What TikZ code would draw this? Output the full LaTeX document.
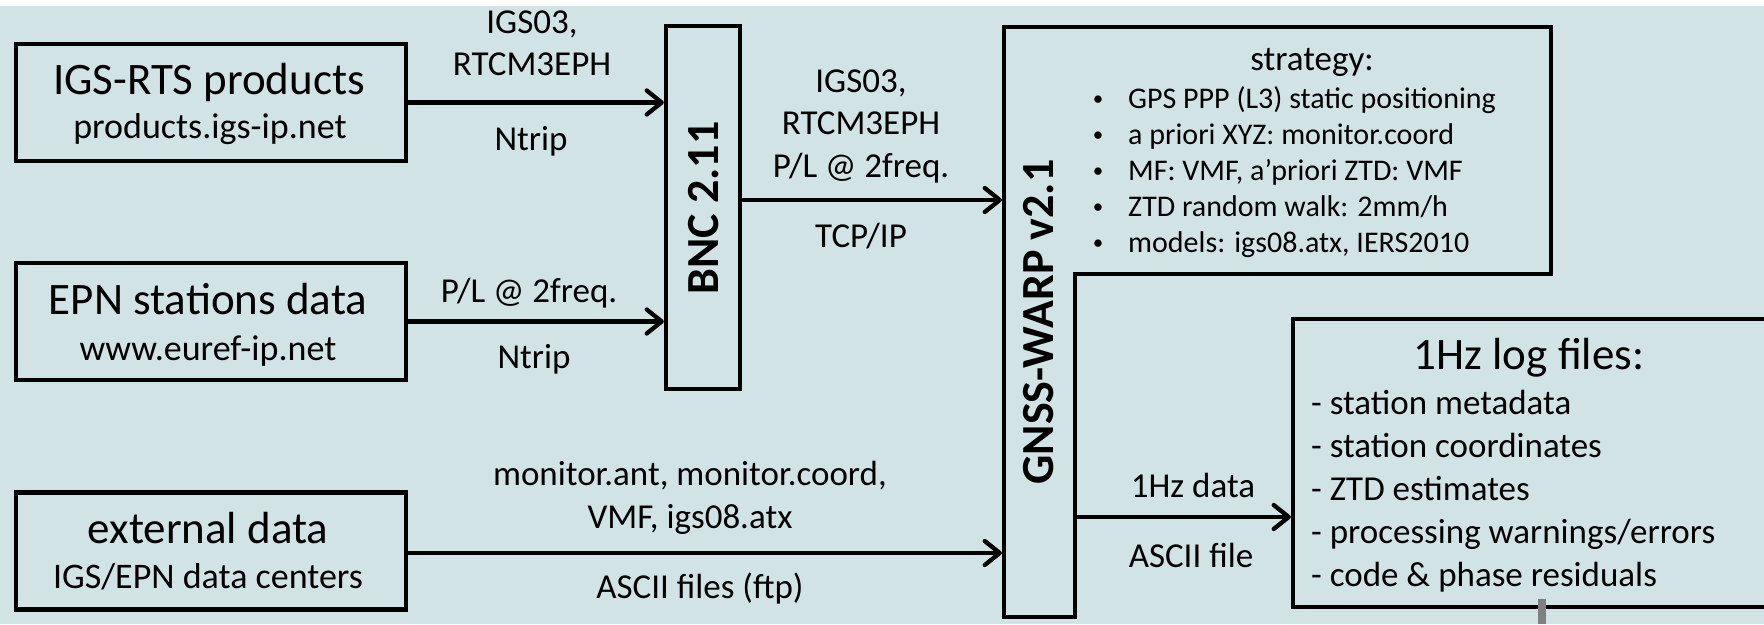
\documentclass[tikz,border=0pt]{standalone}
\usepackage{fontspec}
\setmainfont{Carlito}
\usetikzlibrary{arrows.meta,calc}
\definecolor{bg}{RGB}{210,227,229}
\definecolor{barg}{RGB}{128,128,128}
\tikzset{
  box/.style={draw, line width=4.3pt, minimum width=390pt, minimum height=117pt, inner sep=0pt},
  arr/.style={line width=4.3pt, -{Straight Barb[length=15pt,width=24pt,round]}},
  ttl/.style={anchor=base, font=\fontsize{45}{54}\selectfont, inner sep=0pt},
  sub/.style={anchor=base, font=\fontsize{36}{43}\selectfont, inner sep=0pt},
  lbl/.style={anchor=base, font=\fontsize{35}{42}\selectfont, inner sep=0pt},
  bul/.style={anchor=base west, font=\fontsize{30}{36}\selectfont, inner sep=0pt},
  dot/.style={anchor=base, font=\fontsize{21}{25}\selectfont, inner sep=0pt},
  item/.style={anchor=base west, font=\fontsize{35}{42}\selectfont, inner sep=0pt},
  vert/.style={rotate=90, font=\bfseries\fontsize{46}{54}\selectfont, inner sep=0pt},
}
\begin{document}
\begin{tikzpicture}[x=1pt,y=-1pt]
\useasboundingbox (0,0) rectangle (1764,624);
\clip (0,0) rectangle (1764,624);
\fill[bg] (0,0) rectangle (1764,624);
\fill[white] (0,0) rectangle (1764,6);

% source boxes
\node[box] (igs) at (211,102.5) {};
\node[box] (epn) at (211,321.5) {};
\node[box] (ext) at (211,551) {};
\node[ttl] (igsT) at (209,94) {IGS-RTS products};
\node[sub] (igsS) at (210,138) {products.igs-ip.net};
\node[ttl] (epnT) at (208,314) {EPN stations data};
\node[sub] (epnS) at (208,360) {www.euref-ip.net};
\node[ttl] (extT) at (208,543) {external data};
\node[sub] (extS) at (208,588) {IGS/EPN data centers};

% BNC
\node[draw, line width=4.3pt, minimum width=74pt, minimum height=363pt, inner sep=0pt] (bnc) at (703,207.5) {};
\node[vert] (bncT) at (704,208) {BNC 2.11};

% GNSS-WARP outline
\draw[line width=4.3pt] (1004,27) -- (1551,27) -- (1551,274) -- (1075,274) -- (1075,617) -- (1004,617) -- cycle;
\node[minimum width=71pt, minimum height=590pt, inner sep=0pt, outer sep=2.1pt] (warp) at (1039.5,322) {};
\node[vert] (warpT) at (1039,322) {GNSS-WARP v2.1};
\node[minimum width=476pt, minimum height=247pt, inner sep=0pt] (strat) at (1313,150.5) {};
\node[lbl] (stratT) at (1312,70) {strategy:};
\foreach \t [count=\i from 0] in {GPS PPP (L3) static positioning, a priori XYZ: monitor.coord, {MF: VMF, a’priori ZTD: VMF}, ZTD random walk: 2mm/h, {models: igs08.atx, IERS2010}} {
  \node[dot] (sd\i) at (1098,105+36*\i) {•};
  \node[bul] (st\i) at (1128,108+36*\i) {\t};
}

% log files
\node[draw, line width=4.3pt, minimum width=507pt, minimum height=288pt, inner sep=0pt] (log) at (1546.5,463) {};
\node[ttl] (logT) at (1529,369) {1Hz log files:};
\foreach \t [count=\i from 0] in {- station metadata, - station coordinates, - ZTD estimates, - processing warnings/errors, - code \& phase residuals} {
  \node[item] (li\i) at (1311,414+43*\i) {\t};
}
\fill[barg] (1538,599) rectangle (1546,624);

% connectors
\draw[arr] (igs.east) -- (igs.east -| bnc.west);
\draw[arr] (epn.east) -- (epn.east -| bnc.west);
\path (bnc.east |- 0,200) coordinate (b1);
\draw[arr] (b1) -- (b1 -| warp.west);
\path (ext.east |- 0,553) coordinate (e1);
\draw[arr] (e1) -- (e1 -| warp.west);
\path (1075,517) coordinate (w1);
\draw[arr] (w1) -- (w1 -| log.west);

% labels
\node[lbl] (l1a) at (532,33) {IGS03,};
\node[lbl] (l1b) at (532,75) {RTCM3EPH};
\node[lbl] (l1c) at (531,150) {Ntrip};
\node[lbl] (l2a) at (529,302) {P/L @ 2freq.};
\node[lbl] (l2b) at (534,368) {Ntrip};
\node[lbl] (l3a) at (861,92) {IGS03,};
\node[lbl] (l3b) at (861,134) {RTCM3EPH};
\node[lbl] (l3c) at (861,177) {P/L @ 2freq.};
\node[lbl] (l3d) at (861,247) {TCP/IP};
\node[lbl] (l4a) at (690,485) {monitor.ant, monitor.coord,};
\node[lbl] (l4b) at (690,528) {VMF, igs08.atx};
\node[lbl] (l4c) at (700,598) {ASCII files (ftp)};
\node[lbl] (l5a) at (1193,497) {1Hz data};
\node[lbl] (l5b) at (1191,567) {ASCII file};
\end{tikzpicture}
\end{document}
